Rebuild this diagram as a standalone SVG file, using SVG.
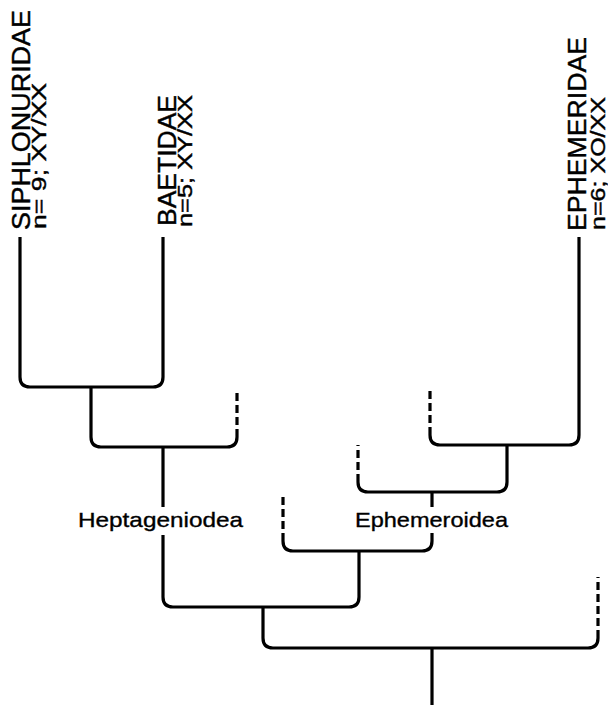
<svg xmlns="http://www.w3.org/2000/svg" width="608" height="705" viewBox="0 0 608 705">
<style>
.ln{fill:none;stroke:#000;stroke-width:3.2;stroke-linejoin:round}
.ds{fill:none;stroke:#000;stroke-width:3.2;stroke-dasharray:8 4}
.big{font-family:"Liberation Sans",Arial,sans-serif;font-size:25px;fill:#000;stroke:#000;stroke-width:0.4}
.sm{font-family:"Liberation Sans",Arial,sans-serif;font-size:20px;fill:#000;stroke:#000;stroke-width:0.4}
.lab{font-family:"Liberation Sans",Arial,sans-serif;font-size:21px;fill:#000;stroke:#000;stroke-width:0.35}
</style>
<rect width="608" height="705" fill="#fff"/>
<g id="siphlonuridae">
<text class="big" transform="translate(30,230) rotate(-90)" textLength="220" lengthAdjust="spacingAndGlyphs">SIPHLONURIDAE</text>
<text class="sm" transform="translate(46,229) rotate(-90)" textLength="146" lengthAdjust="spacingAndGlyphs">n= 9; XY/XX</text>
</g>
<g id="baetidae">
<text class="big" transform="translate(175.5,226) rotate(-90)" textLength="131" lengthAdjust="spacingAndGlyphs">BAETIDAE</text>
<text class="sm" transform="translate(192,227) rotate(-90)" textLength="132" lengthAdjust="spacingAndGlyphs">n=5; XY/XX</text>
</g>
<g id="ephemeridae">
<text class="big" transform="translate(585.5,231) rotate(-90)" textLength="194" lengthAdjust="spacingAndGlyphs">EPHEMERIDAE</text>
<text class="sm" transform="translate(605,230) rotate(-90)" textLength="133" lengthAdjust="spacingAndGlyphs">n=6; XO/XX</text>
</g>
<g id="heptageniodea">
<text class="lab" x="78" y="527" textLength="165" lengthAdjust="spacingAndGlyphs">Heptageniodea</text>
</g>
<g id="ephemeroidea">
<text class="lab" x="355" y="527" textLength="153" lengthAdjust="spacingAndGlyphs">Ephemeroidea</text>
</g>
<g id="connectors">
<path class="ln" d="M20,237 V377 Q20,387 30,387 H153 Q163,387 163,377 V237"/>
<path class="ln" d="M91,387 V437 Q91,447 101,447 H227 Q237,447 237,437"/>
<path class="ds" d="M237,437 V390"/>
<path class="ln" d="M163,447 V507"/>
<path class="ln" d="M163,535 V597 Q163,607 173,607 H349 Q359,607 359,597 V551"/>
<path class="ln" d="M263,607 V638 Q263,648 273,648 H588 Q598,648 598,638"/>
<path class="ds" d="M598,638 V577"/>
<path class="ln" d="M432,648 V705"/>
<path class="ln" d="M579,237 V435 Q579,445 569,445 H440 Q430,445 430,435"/>
<path class="ds" d="M430,435 V390"/>
<path class="ln" d="M507,445 V482 Q507,492 497,492 H368 Q358,492 358,482"/>
<path class="ds" d="M358,482 V445"/>
<path class="ln" d="M432,492 V507"/>
<path class="ln" d="M432,533 V541 Q432,551 422,551 H293 Q283,551 283,541"/>
<path class="ds" d="M283,541 V493"/>
</g>
</svg>
